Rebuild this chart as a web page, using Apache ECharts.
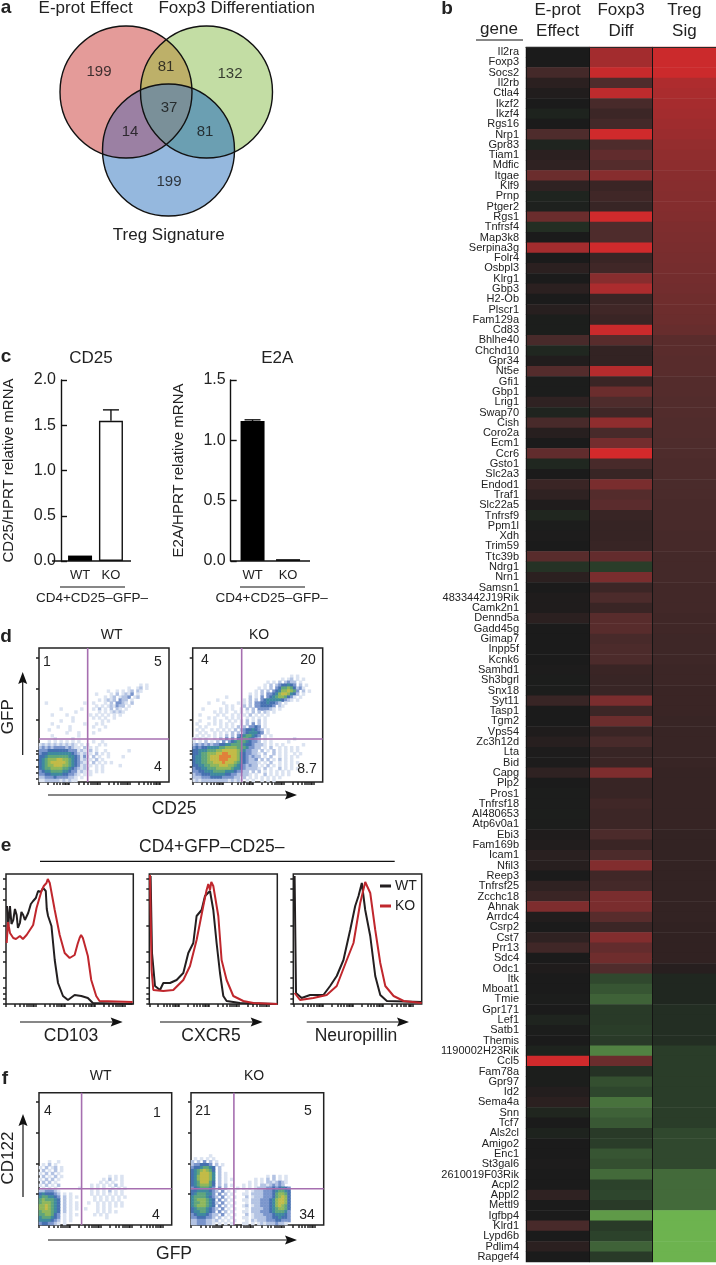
<!DOCTYPE html>
<html><head><meta charset="utf-8">
<style>html,body{margin:0;padding:0;background:#fff}#c{width:716px;height:1265px}</style>
<script src="https://cdn.jsdelivr.net/npm/echarts@6/dist/echarts.min.js"></script>
</head><body><div id="c"></div>
<script>
// ---------- data ----------
const vennNames = ['E-prot Effect','Foxp3 Differentiation','Treg Signature'];
const vennCounts = [199,81,132,37,14,81,199];

const barCats = ['WT','KO'];
const cd25Values = [0.06,1.55];
const cd25Err = [0,0.12];
const e2aValues = [1.16,0.015];
const e2aErr = [0.01,0];

const genes = ['Il2ra','Foxp3','Socs2','Il2rb','Ctla4','Ikzf2','Ikzf4','Rgs16','Nrp1','Gpr83','Tiam1','Mdfic','Itgae','Klf9','Prnp','Ptger2','Rgs1','Tnfrsf4','Map3k8','Serpina3g','Folr4','Osbpl3','Klrg1','Gbp3','H2-Ob','Plscr1','Fam129a','Cd83','Bhlhe40','Chchd10','Gpr34','Nt5e','Gfi1','Gbp1','Lrig1','Swap70','Cish','Coro2a','Ecm1','Ccr6','Gsto1','Slc2a3','Endod1','Traf1','Slc22a5','Tnfrsf9','Ppm1l','Xdh','Trim59','Ttc39b','Ndrg1','Nrn1','Samsn1','4833442J19Rik','Camk2n1','Dennd5a','Gadd45g','Gimap7','Inpp5f','Kcnk6','Samhd1','Sh3bgrl','Snx18','Syt11','Tasp1','Tgm2','Vps54','Zc3h12d','Lta','Bid','Capg','Plp2','Pros1','Tnfrsf18','AI480653','Atp6v0a1','Ebi3','Fam169b','Icam1','Nfil3','Reep3','Tnfrsf25','Zcchc18','Ahnak','Arrdc4','Csrp2','Cst7','Prr13','Sdc4','Odc1','Itk','Mboat1','Tmie','Gpr171','Lef1','Satb1','Themis','1190002H23Rik','Ccl5','Fam78a','Gpr97','Id2','Sema4a','Snn','Tcf7','Als2cl','Amigo2','Enc1','St3gal6','2610019F03Rik','Acpl2','Appl2','Mettl9','Igfbp4','Klrd1','Lypd6b','Pdlim4','Rapgef4'];
const heatCols = ['E-prot\nEffect','Foxp3\nDiff','Treg\nSig'];
const eprot = [0,0,20,8,3,0,-5,0,25,-6, 8,10,40,10,-6,-4,40,-12,0,70, 0,8,0,8,0,6,-2,-2,22,-8, 3,28,-1,-1,10,-6,22,6,0,35, -8,0,15,10,2,-7,-1,1,0,30, -15,8,0,2,2,8,0,0,0,0, 1,-1,-1,14,0,0,2,6,1,1, 10,0,-1,-1,-2,-1,2,3,7,6, 0,10,15,50,3,0,10,18,0,2, 0,0,-1,0,-6,-1,0,-5,95,-2, -2,4,8,-7,0,-5,0,0,1,0, 0,10,0,0,22,0,8,0];
const foxp3 = [70,70,90,25,85,22,16,20,95,25, 35,28,55,15,18,14,95,25,25,95, 15,18,55,75,15,18,15,92,30,12, 12,80,15,40,25,18,60,22,45,97, 22,14,48,28,32,14,13,13,14,36, -22,48,16,24,15,30,30,22,24,24, 15,14,14,48,16,40,15,22,14,15, 50,14,14,18,16,16,24,15,24,52, 18,20,48,48,30,16,52,36,42,26, -30,-40,-50,-20,-20,-22,-20,-70,40,-15, -35,-28,-60,-50,-42,-20,-22,-40,-35,-55, -25,-28,-20,-85,-20,-25,-50,-20];
const treg = [92,92,92,76,74,72,70,68,66,62, 60,58,56,55,54,53,52,50,49,48, 47,46,45,44,42,41,40,38,31,31, 30,30,28,28,27,27,26,26,25,25, 24,24,23,23,22,22,22,21,21,20, 20,20,19,19,19,18,18,17,17,17, 16,16,15,15,15,14,14,14,14,14, 13,13,13,13,13,13,12,12,12,12, 12,12,12,12,12,11,11,11,11,6, -8,-8,-8,-12,-12,-12,-12,-22,-22,-22, -22,-22,-22,-22,-22,-30,-30,-30,-30,-55, -55,-55,-55,-100,-100,-100,-100,-100];

// flow density, one digit per cell ('.' = empty), rows listed from the given first row
const dWT = {first:12, rows:[
"..................................1.1","..............................1..12.1",".......................1..1.1.12.21","...................1....1.2.1213.1","......................1.12.1223.12.","....................1.1212.322.1","..1............1..1...1.2.3321.2","...................1.1.121322.1",".......1......1...1.2.1.2.21.1","............1.......1.1.12121","....1....1.......1.1.1.1.1.1","...........1......1.1.1..1",".......1...1.........1.1","....1..........1...1.1.","......1...1.......1...1","...1......1.........1",".........1...1....1","....1........1..",".....1.....1","...1.1.1.1.1.1....1..1",
"1212121212121.1.1...1.1","23232333323211.2.1.1..","3334444444333121.2.1..1.......1","3445555555543212.1.2.1.1","44566666665543131.2.1..1....1","4567778877654312.1.2.1","45678888876543211.2.1.1.1","4567788877654312.1.1.1.....1","45667777665432121..1.1","3455666655433121.1.1.1","33445555443321.1.1","2233343333221.1.","1122222121211"]};
const dKO = {first:9, rows:[
".................................1.1","..............................1.12.1.1",".........................1.1.2.2322.1","........................1.2.2344543.2.1","......................1.1.2.3466764231",".....................1.2.2.345778763.2.1","...................1.1.2.33457887542.1","...........1.......2.1.3.3456776431.1","........1........1.2.2.34555554321.1",".....1....1....1.1.2.334454432.1","...........1.1...2.2.3344443.21","...1.....1.1.1..1.2.2.333321.1",".......1.1.1..1.1.1.2.2.21.1","..1.....1.1..1.1.1.2.1.1.1",".....1.1...1.1.1..1.1.1.1","..1....1.1..1.1.1.2.1.2.1",".1...1.1.1.1.1..1.2.3.2.1","..1.1....1.1.1.2.2.3343.1",".1.1..1.1.1.1.2.23445432.1","..1.1..1.1.1.2.2.3455543.1",".1.1.1.1.1.2.2.34566543.1.1","1.1.1..1.2.3.3.45665432.1.........1","1.1.2.1.2.3.34566654332.1.1.....1",
"2323232334455666654432221.1.1.1......1","34344555566777766653322.1.2..1.1.1.1","4455566677888887653322.2.1.2.1.1.1.1","44566777889988875433221.2..2.1.1..1.1","45566788899998875432322.1.2..1.1.1.1","4556678889998887543223.2.2.1.2.1.1..","45566778889888765432221.1.2..1.1.1.1","4455667778887765432322.1.2.1.1.1.1","34455666777776554322221.2.1..2.1.1.1","3344555666655543322.2.2.1.1.1.1.1","23344455555443322221.1..2.1.1.1.1","2223334444333322.2.1.1.1.1.1.1","12122222222212121.1.1..1.1.1"]};
const fWT = {first:23, rows:[
"...1..1",".1.2.1..","1.2.12.1",".2.1.2.1","1.2.2.1",".2.1.2.1...............1.1.1","1.2.2.1..............1.2.1.1",".2.2.1..............1.1.1..1","1.2.1.2..........1.1.1.1.2.1",".1.1.1.......1...1.1.1..1.1.1",
"2233321..........1.1.1.2.1.1","4544432.1.1......1.1.1.1.1.1","5665543.2.1.1.....1.1.1.1.1.1","6766654.2.1.......1.1.1.1.1","6777654.2.1.1...1..1.1.1.1.1","7787654.2.1.1......1.1.1.1.1","7787654.2.1.1..1...1.1.1","6777654.2.1........1.1.1.1","6677643.1.1.1.....1.1.1","5666543.1.1...........1","5555432.1.1","3443321.1"]};
const fKO = {first:21, rows:[
"......1",".1.1.1.1","2.2.3.2.1","2334443.2.1","34456654.2","45678764.2","45688875.2.1",
"45788875.2.1.............1.2.1.1","45788875.2.1.1.......1.1.2.2.1.1","45688864.2.1.......1.1.1.2212321","45677764.2.2.1...1.1.1.22123232","34566653.3.2...1.1.1.122233434543",
"445555432.3.1.1...1.1222333456654","45666553.3.2.1...11.2222333467764","566665432.3.1.1...2.1222333467874","56777654.3.2.1...11.2223334578874","566776542.3.1.1...1.2223334578874","56777654.3.2.1...12.1223334578764","456665432.3.1.1...1.2222334567764","45566543.3.2.1...11.2223334566653","345554322.3.1.1...2.1222333455543","33444332.2.1.1...11.1222233445443","223332212.1.1.1...1.2122233344333","22333221.1.1.1...11.1.1212223221."]};

// histograms: [channel, count]
const cd103WT = [[1,98],[2.3,78],[4,98],[5.5,80],[7.3,84],[9,95],[10.7,89],[12,76],[14,81],[15.5,92],[17.3,89],[19,84],[22.3,91],[25,100],[27.3,103],[30,106],[32.3,113],[35,112],[37.3,116],[40,113],[41,95],[42.3,88],[45.7,78],[49,44],[52.3,21],[57.3,8],[62.3,4],[69,9],[75.7,8],[82.3,6],[87.3,1],[127.3,0]];
const cd103KO = [[0.7,61],[2,82],[4,71],[7.3,66],[10,65],[14,68],[17,65],[20.7,69],[27.3,79],[30.7,96],[35.7,113],[38,118],[40.7,121],[42,125],[44,121],[49,94],[54,69],[59,51],[64,46],[69,49],[72,60],[74,66],[75.5,69],[77.3,66],[82.3,48],[85.7,24],[90.7,8],[94,3],[127.3,2]];
const cxcr5WT = [[1.3,128],[2.7,51],[5.7,18],[10.7,14],[14,21],[20.7,21],[27.3,24],[34,31],[39,51],[44,61],[47.3,88],[52.3,94],[55.7,108],[60.7,113],[64,94],[67.3,61],[70.7,31],[74,8],[77.3,3],[90.7,1],[128,0]];
const cxcr5KO = [[0.7,129],[2.3,34],[4,14],[14,13],[24,14],[34,24],[40.7,38],[47.3,64],[54,98],[57.3,114],[59,120],[60.7,114],[62,122],[64,118],[69,88],[72.3,44],[77.3,24],[84,8],[94,3],[104,1],[128,0]];
const neuroWT = [[1.3,128],[2.7,11],[8.3,6],[16.7,9],[30,9],[36.7,18],[43.3,28],[50,44],[56.7,74],[61.7,98],[65,108],[68.3,121],[71.7,94],[76.7,68],[81.7,28],[86.7,9],[93.3,3],[128,2]];
const neuroKO = [[1.3,11],[6.7,4],[20,6],[33.3,9],[43.3,18],[53.3,44],[60,61],[66.7,101],[71.7,122],[76.7,111],[81.7,74],[86.7,41],[91.7,18],[100,8],[110,3],[128,1]];

// ---------- layout ----------
const FONT = '"Liberation Sans",Arial,sans-serif';
const INK = '#222';
const grid=[],xAxis=[],yAxis=[],series=[],graphic=[];
function txt(s,x,y,size,o){o=o||{};graphic.push({type:'text',x:x,y:y,rotation:o.rot||0,z:50,silent:true,style:{text:s,x:0,y:0,fill:INK,textAlign:o.align||'center',textVerticalAlign:'middle',font:(o.bold?'bold ':'')+size+'px '+FONT}});}
function seg(x1,y1,x2,y2,w){graphic.push({type:'line',z:50,silent:true,shape:{x1,y1,x2,y2},style:{stroke:'#111',lineWidth:w||1.2}});}
function arrowH(x1,x2,y){seg(x1,y,x2-8,y,1.2);graphic.push({type:'polygon',z:50,silent:true,shape:{points:[[x2,y],[x2-12,y-4.5],[x2-10,y],[x2-12,y+4.5]]},style:{fill:'#111'}});}
function arrowV(x,y1,y2){seg(x,y1,x,y2+8,1.2);graphic.push({type:'polygon',z:50,silent:true,shape:{points:[[x,y2],[x-4.5,y2+12],[x,y2+10],[x+4.5,y2+12]]},style:{fill:'#111'}});}
function addGrid(l,t,w,h,o){grid.push(Object.assign({left:l,top:t,width:w,height:h,containLabel:false},o||{}));return grid.length-1;}
function addX(a){xAxis.push(a);return xAxis.length-1;}
function addY(a){yAxis.push(a);return yAxis.length-1;}

// ---------- a: venn ----------
const vennGeom = [{x:126,y:92,r:66},{x:206.5,y:92,r:66},{x:168.5,y:150,r:66}];
const vennFill = {c:['#e49b99','#c3dda4','#95b8de'],ab:'#bdb069',ac:'#9b80a3',bc:'#6b9fb2',abc:'#7a9099'};
const vennTextPos = [[99,72],[166,67],[230,74],[169,108],[130,132],[205,132],[169,182]];
function hits(a,b){const dx=b.x-a.x,dy=b.y-a.y,d=Math.hypot(dx,dy),m=(a.r*a.r-b.r*b.r+d*d)/(2*d),h=Math.sqrt(a.r*a.r-m*m),mx=a.x+m*dx/d,my=a.y+m*dy/d;return [[mx-h*dy/d,my+h*dx/d],[mx+h*dy/d,my-h*dx/d]];}
function arc(c,p,q){const a1=Math.atan2(p[1]-c.y,p[0]-c.x),a2=Math.atan2(q[1]-c.y,q[0]-c.x);let d=a2-a1;while(d>Math.PI)d-=2*Math.PI;while(d<-Math.PI)d+=2*Math.PI;const o=[];for(let i=0;i<=48;i++){const t=a1+d*i/48;o.push([c.x+c.r*Math.cos(t),c.y+c.r*Math.sin(t)]);}return o;}
function lens(a,b){const h=hits(a,b);return arc(a,h[0],h[1]).concat(arc(b,h[1],h[0]));}
function inner(a,b,c){return hits(a,b).filter(p=>Math.hypot(p[0]-c.x,p[1]-c.y)<c.r)[0];}
const vg = addGrid(0,0,716,1265);
const vx = addX({type:'value',gridIndex:vg,min:0,max:716,show:false});
const vy = addY({type:'value',gridIndex:vg,min:0,max:1265,inverse:true,show:false});
series.push({type:'custom',xAxisIndex:vx,yAxisIndex:vy,coordinateSystem:'cartesian2d',clip:false,z:3,data:[[0,0]],renderItem:function(p,api){
  const C=vennGeom.map(g=>{const c=api.coord([g.x,g.y]);return {x:c[0],y:c[1],r:g.r};});
  const poly=(pts,f)=>({type:'polygon',shape:{points:pts},style:{fill:f,stroke:null}});
  const ch=[];
  C.forEach((c,i)=>ch.push({type:'circle',shape:{cx:c.x,cy:c.y,r:c.r},style:{fill:vennFill.c[i],stroke:null}}));
  ch.push(poly(lens(C[0],C[1]),vennFill.ab),poly(lens(C[0],C[2]),vennFill.ac),poly(lens(C[1],C[2]),vennFill.bc));
  const pab=inner(C[0],C[1],C[2]),pac=inner(C[0],C[2],C[1]),pbc=inner(C[1],C[2],C[0]);
  ch.push(poly(arc(C[0],pab,pac).concat(arc(C[2],pac,pbc),arc(C[1],pbc,pab)),vennFill.abc));
  C.forEach(c=>ch.push({type:'circle',shape:{cx:c.x,cy:c.y,r:c.r},style:{fill:'none',stroke:'#111',lineWidth:1.4}}));
  return {type:'group',children:ch};
}});
series.push({type:'scatter',xAxisIndex:vx,yAxisIndex:vy,symbolSize:0,z:4,silent:true,
  data:vennCounts.map((v,i)=>({value:[vennTextPos[i][0],vennTextPos[i][1]],label:{formatter:String(v)}})),
  label:{show:true,position:'inside',fontSize:15,color:'#111',fontFamily:FONT}});
txt('a',6,8,19,{bold:true});
txt(vennNames[0],85.7,8,17);txt(vennNames[1],236.7,8,17);txt(vennNames[2],168.7,235,17);

// ---------- b: heatmap ----------
const hg = addGrid(526,44,190,1218);
const hx = addX({type:'category',gridIndex:hg,data:heatCols,position:'top',z:5,
  axisLine:{show:true,lineStyle:{color:'#2a2a2a',width:1}},axisTick:{show:false},
  axisLabel:{color:INK,fontSize:17,lineHeight:21,margin:5,fontFamily:FONT,interval:0},
  splitLine:{show:true,interval:0,lineStyle:{color:'#141414',width:1}}});
const hy = addY({type:'category',gridIndex:hg,data:genes,inverse:true,
  axisLine:{show:false},axisTick:{show:false},
  axisLabel:{interval:0,color:INK,fontSize:11,margin:7,fontFamily:FONT,hideOverlap:false}});
const heatData=[];
genes.forEach((g,i)=>{heatData.push([0,i,eprot[i]],[1,i,foxp3[i]],[2,i,treg[i]]);});
series.push({type:'heatmap',name:'heat',xAxisIndex:hx,yAxisIndex:hy,data:heatData,progressive:0,itemStyle:{borderWidth:0},emphasis:{disabled:true}});
const heatSeriesIndex=series.length-1;
txt('b',447,9,19,{bold:true});
txt('gene',499,29,17);
seg(476,40,523,40,1.2);

// ---------- c: bars ----------
function barPanel(l,w,axisX,axisEnd,vals,errs,max,name,nameGap,nameSize,title,titleX,capLine,capX){
  const g=addGrid(l,380,w,181);
  const xi=addX({type:'category',gridIndex:g,data:barCats,axisLine:{show:false},axisTick:{show:false},
    axisLabel:{color:INK,fontSize:13,margin:8,fontFamily:FONT}});
  const yi=addY({type:'value',gridIndex:g,min:0,max:max,interval:0.5,offset:l-axisX,
    name:name,nameLocation:'middle',nameRotate:90,nameGap:nameGap,nameMoveOverlap:false,nameTextStyle:{color:INK,fontSize:nameSize,fontFamily:FONT},
    axisLine:{show:true,lineStyle:{color:'#111',width:1.4}},axisTick:{show:true,inside:true,length:6,lineStyle:{color:'#111',width:1.4}},
    splitLine:{show:false},axisLabel:{color:INK,fontSize:16,margin:5,fontFamily:FONT,formatter:v=>v.toFixed(1)}});
  series.push({type:'bar',xAxisIndex:xi,yAxisIndex:yi,barWidth:24,silent:true,
    data:vals.map(v=>v>0.3&&name[0]==='C'?{value:v,itemStyle:{color:'#fff',borderColor:'#111',borderWidth:1.4}}:{value:v,itemStyle:{color:'#000'}})});
  series.push({type:'custom',xAxisIndex:xi,yAxisIndex:yi,clip:false,z:3,data:vals.map((v,i)=>[i,v,errs[i]]),renderItem:function(p,api){
    const e=api.value(2);if(!e)return null;
    const a=api.coord([api.value(0),api.value(1)]),b=api.coord([api.value(0),api.value(1)+e]);
    const st={stroke:'#111',lineWidth:1.4};
    return {type:'group',children:[{type:'line',shape:{x1:a[0],y1:a[1],x2:b[0],y2:b[1]},style:st},{type:'line',shape:{x1:b[0]-8,y1:b[1],x2:b[0]+8,y2:b[1]},style:st}]};
  }});
  seg(axisX,561,axisEnd,561,1.4);
  txt(title,titleX,358,17);
  seg(capLine,587,capLine+65,587,1.2);
  txt('CD4+CD25\u2013GFP\u2013',capX,598,13.5);
}
barPanel(55.6,70.8,52,131,cd25Values,cd25Err,2,'CD25/HPRT relative mRNA',45,15,'CD25',91,60,92);
barPanel(234.8,71,230.7,310,e2aValues,e2aErr,1.5,'E2A/HPRT relative mRNA',44.5,15,'E2A',277.3,240,271.7);
txt('c',6,357,19,{bold:true});

// ---------- d, f: flow plots ----------
const flowMax=4.3;
const decades=[0,1,2,3,4];
const subs=[0,0.3,0.48,0.6,0.7,0.78,0.85,0.9,0.95];
const denseTicks=[];decades.forEach(d=>subs.forEach(s=>{if(d+s<flowMax)denseTicks.push(d+s);}));
const flowSeries=[];
const flowCols=[...Array(44).keys()],flowRows=[...Array(45).keys()];
function flow(l,t,w,h,dens,gx,gy,yTicks){
  const g=addGrid(l,t,w,h,{show:true,borderColor:'#222',borderWidth:1.5,backgroundColor:'#fff'});
  const cx=addX({type:'category',gridIndex:g,data:flowCols,show:false});
  const cy=addY({type:'category',gridIndex:g,data:flowRows,inverse:true,show:false});
  const d=[];dens.rows.forEach((row,r)=>{for(let c=0;c<row.length;c++){const v=+row[c];if(v>0)d.push([c,r+dens.first,v]);}});
  series.push({type:'heatmap',xAxisIndex:cx,yAxisIndex:cy,data:d,progressive:0,silent:true,itemStyle:{borderWidth:0},emphasis:{disabled:true}});
  flowSeries.push(series.length-1);
  const vxi=addX({type:'value',gridIndex:g,min:0,max:flowMax,position:'bottom',axisLabel:{show:false},splitLine:{show:false},axisLine:{show:false},
    axisTick:{show:true,length:3,customValues:denseTicks,lineStyle:{color:'#222',width:1.5}}});
  const vyi=addY({type:'value',gridIndex:g,min:0,max:flowMax,position:'left',axisLabel:{show:false},splitLine:{show:false},axisLine:{show:false},
    axisTick:{show:true,length:3,customValues:yTicks,lineStyle:{color:'#222',width:1.5}}});
  const gate={type:'line',xAxisIndex:vxi,yAxisIndex:vyi,symbol:'none',silent:true,z:4,lineStyle:{color:'#a66fb0',width:1.6},animation:false};
  series.push(Object.assign({},gate,{data:[[gx,0],[gx,flowMax]]}));
  series.push(Object.assign({},gate,{data:[[0,gy],[flowMax,gy]]}));
}
const dYTicks=[0.1,0.3,0.5,0.7,0.9,1,2,3,4];
const fYTicks=[1,2,3,4];
flow(39,648,130,134,dWT,1.61,1.38,dYTicks);
flow(192.7,648,130,134,dKO,1.62,1.38,dYTicks);
flow(39,1092.7,132.7,132.3,fWT,1.38,1.18,fYTicks);
flow(191,1092.7,132.7,132.3,fKO,1.39,1.18,fYTicks);
txt('d',6,637,19,{bold:true});
txt('WT',111.7,635,14);txt('KO',259,635,14);
[['1',47,662],['5',158,662],['4',158,767],['4',205,660],['20',308,660],['8.7',307,769]].forEach(a=>txt(a[0],a[1],a[2],14));
arrowH(48,297,795);arrowV(22.7,755,672);
txt('CD25',174,809,17.5);txt('GFP',8,716.7,17,{rot:Math.PI/2});
txt('f',5,1079,19,{bold:true});
txt('WT',100.7,1076,14);txt('KO',254,1076,14);
[['4',48,1111],['1',157,1113],['4',156,1215],['21',203,1111],['5',308,1111],['34',307,1215]].forEach(a=>txt(a[0],a[1],a[2],14));
arrowH(48,297,1240);arrowV(23,1197,1114);
txt('GFP',174,1254,17.5);txt('CD122',8,1158,17,{rot:Math.PI/2});

// ---------- e: histograms ----------
const histXTicks=denseTicks.map(v=>v/flowMax*128);
const histYTicks=[0,5,10,16,26,42,52,78,104,115,125];
function hist(l,w,a,b){
  const g=addGrid(l,874,w,130,{show:true,borderColor:'#222',borderWidth:1.5,backgroundColor:'#fff'});
  const xi=addX({type:'value',gridIndex:g,min:0,max:128,axisLabel:{show:false},splitLine:{show:false},axisLine:{show:false},
    axisTick:{show:true,length:3,customValues:histXTicks,lineStyle:{color:'#222',width:1.5}}});
  const yi=addY({type:'value',gridIndex:g,min:0,max:130,axisLabel:{show:false},splitLine:{show:false},axisLine:{show:false},
    axisTick:{show:true,length:3,customValues:histYTicks,lineStyle:{color:'#222',width:1.5}}});
  const base={type:'line',xAxisIndex:xi,yAxisIndex:yi,symbol:'none',silent:true};
  series.push(Object.assign({},base,{name:'WT',data:a,z:3,itemStyle:{color:'#231f20'},lineStyle:{color:'#231f20',width:2}}));
  series.push(Object.assign({},base,{name:'KO',data:b,z:4,itemStyle:{color:'#c0272d'},lineStyle:{color:'#c0272d',width:2}}));
}
hist(6,127.3,cd103WT,cd103KO);
hist(149.3,128,cxcr5WT,cxcr5KO);
hist(293.3,128.4,neuroWT,neuroKO);
txt('e',6,846,19,{bold:true});
txt('CD4+GFP\u2013CD25\u2013',211.7,847,17.5);
seg(40,861.3,394.7,861.3,1.2);
arrowH(20,122.7,1022);arrowH(160,262.7,1022);arrowH(306.7,409,1022);
txt('CD103',71,1036,17.5);txt('CXCR5',211,1036,17.5);txt('Neuropillin',356,1036,17.5);

// ---------- chart ----------
const chart=echarts.init(document.getElementById('c'),null,{renderer:'canvas',width:716,height:1265});
chart.setOption({
  animation:false,backgroundColor:'#fff',textStyle:{fontFamily:FONT},
  grid,xAxis,yAxis,series,graphic:{elements:graphic},
  legend:{data:['WT','KO'],orient:'vertical',left:380,top:879,itemWidth:11,itemHeight:3,itemGap:6,icon:'rect',selectedMode:false,
    textStyle:{color:INK,fontSize:14,fontFamily:FONT,padding:[0,0,0,-1]},padding:0},
  visualMap:[
    {show:false,type:'continuous',seriesIndex:heatSeriesIndex,min:-100,max:100,dimension:2,inRange:{color:['#6db34f','#558a44','#3f6238','#2c422b','#1b1b1b','#4e2c2c','#7e2d2e','#ac2c2e','#d9292b']}},
    {show:false,type:'continuous',seriesIndex:flowSeries,min:1,max:9,dimension:2,inRange:{color:['#dbe3f1','#b3c3e3','#7a95cc','#4570b0','#3f8a9f','#5fa57c','#8fb75c','#c2bb48','#e0813a']}}
  ]
});
</script></body></html>
